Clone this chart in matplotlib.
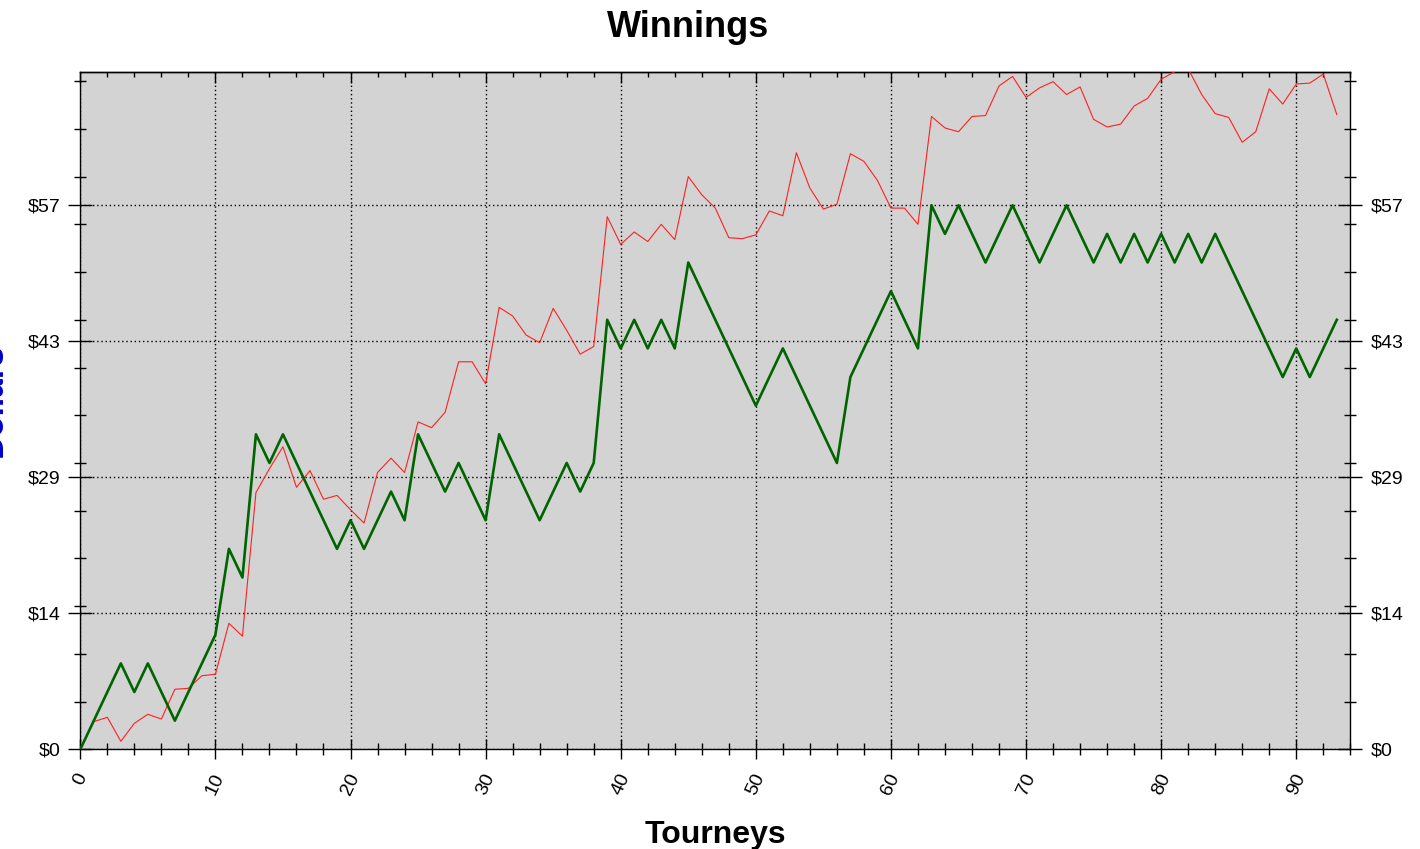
import matplotlib
matplotlib.use("Agg")
import matplotlib.pyplot as plt
import numpy as np

plt.rcParams["font.family"] = ["Liberation Sans", "DejaVu Sans"]

# data
tourneys = list(range(94))

winnings = [0, 3, 6, 9, 6, 9, 6, 3, 6, 9, 12,
            21, 18, 33, 30, 33, 30, 27, 24, 21, 24,
            21, 24, 27, 24, 33, 30, 27, 30, 27, 24,
            33, 30, 27, 24, 27, 30, 27, 30, 45, 42,
            45, 42, 45, 42, 51, 48, 45, 42, 39, 36,
            39, 42, 39, 36, 33, 30, 39, 42, 45, 48,
            45, 42, 57, 54, 57, 54, 51, 54, 57, 54,
            51, 54, 57, 54, 51, 54, 51, 54, 51, 54,
            51, 54, 51, 54, 51, 48, 45, 42, 39, 42,
            39, 42, 45]

expected = [0, 2.9, 3.35, 0.84, 2.72, 3.67, 3.17, 6.29, 6.39, 7.71, 7.86,
            13.2, 11.85, 26.9, 29.4, 31.7, 27.45, 29.2, 26.2, 26.6, 25.1,
            23.7, 29.0, 30.5, 29.0, 34.3, 33.7, 35.3, 40.6, 40.6, 38.3,
            46.3, 45.4, 43.4, 42.6, 46.2, 43.9, 41.4, 42.2, 55.8, 52.9,
            54.2, 53.2, 55.0, 53.4, 60.0, 58.1, 56.7, 53.6, 53.5, 53.9,
            56.4, 55.9, 62.5, 58.8, 56.6, 57.1, 62.4, 61.6, 59.6, 56.7,
            56.7, 55.0, 66.3, 65.1, 64.7, 66.3, 66.4, 69.5, 70.5, 68.3,
            69.3, 69.95, 68.6, 69.4, 66.0, 65.2, 65.5, 67.4, 68.2, 70.2,
            71.0, 71.3, 68.6, 66.6, 66.2, 63.6, 64.7, 69.2, 67.6, 69.7,
            69.8, 70.75, 66.5]

x_major = list(range(0, 91, 10))
x_labels = [str(v) for v in x_major]
x_minor = list(range(0, 95, 2))
y_major = [0, 14.25, 28.5, 42.75, 57]
y_labels = ["$0", "$14", "$29", "$43", "$57"]
y_minor = list(range(0, 71, 5))

W, H = 1420, 849
fig = plt.figure(figsize=(W / 100, H / 100), dpi=100)
ax = fig.add_axes([80.3 / W, 1 - 749.3 / H, 1270 / W, 677 / H])
ax.set_facecolor("#d3d3d3")

ax.plot(tourneys, expected, color="#ff2020", lw=0.8, zorder=3)
ax.plot(tourneys, winnings, color="#006400", lw=1.9, zorder=4)

ax.set_xlim(0, 94)
ax.set_ylim(0, 70.93)

ax.set_xticks(x_major)
ax.set_xticklabels(x_labels, rotation=65, fontsize=14)
ax.set_xticks(x_minor, minor=True)
ax.set_yticks(y_major)
ax.set_yticklabels(y_labels, fontsize=14)
ax.set_yticks(y_minor, minor=True)

ax.tick_params(axis="y", which="both", direction="inout", left=True, right=True,
               labelleft=True, labelright=True, width=1, colors="black")
ax.tick_params(axis="y", which="major", length=17, pad=6, labelsize=14)
ax.tick_params(axis="y", which="minor", length=9)
ax.tick_params(axis="x", which="both", direction="inout", width=1, top=False)
ax.tick_params(axis="x", which="major", length=15, pad=8, labelsize=14)
ax.tick_params(axis="x", which="minor", length=8.5)

# top ticks point inwards only
top = ax.secondary_xaxis("top")
top.set_xticks(x_major)
top.set_xticks(x_minor, minor=True)
top.tick_params(which="both", direction="in", labeltop=False, width=1)
top.tick_params(which="major", length=8)
top.tick_params(which="minor", length=3.6)
top.spines["top"].set_linewidth(1)

for s in ax.spines.values():
    s.set_linewidth(1)
    s.set_color("black")

ax.grid(which="major", color="black", linestyle=(0, (1, 2)), linewidth=1)
ax.set_axisbelow(False)

fig.text(688 / W, 1 - 37 / H, "Winnings", ha="center", va="baseline",
         fontsize=26, fontweight="bold")
fig.text(715 / W, 1 - 843 / H, "Tourneys", ha="center", va="baseline",
         fontsize=23, fontweight="bold")
fig.text(9 / W, 1 - 400 / H, "Dollars", ha="right", va="center", rotation=90,
         fontsize=24, fontweight="bold", color="mediumblue")

fig.savefig("out.png", dpi=100)
